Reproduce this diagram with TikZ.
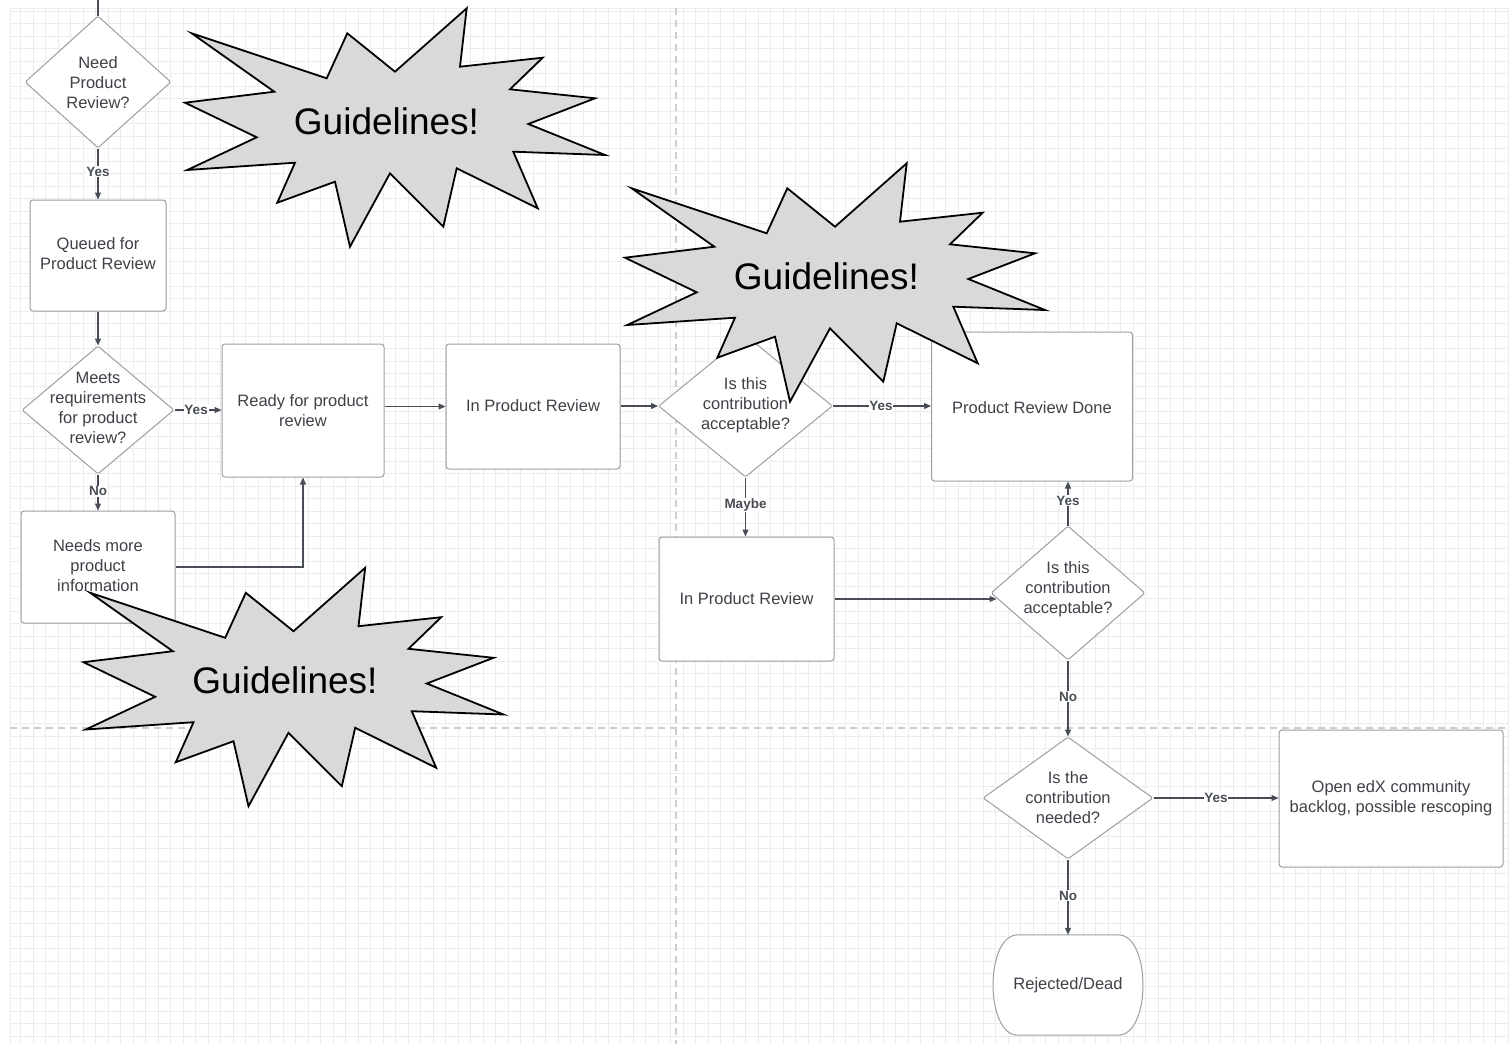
\documentclass[tikz,border=0pt]{standalone}
\usepackage{fontspec}
\setmainfont{Liberation Sans}
\usetikzlibrary{shapes.geometric,arrows.meta,calc}
\definecolor{txt}{RGB}{62,66,72}
\definecolor{bord}{RGB}{155,158,162}
\definecolor{conn}{RGB}{72,77,85}
\definecolor{gridc}{RGB}{235,236,238}
\definecolor{dashc}{RGB}{205,205,208}
\definecolor{starfill}{RGB}{217,217,217}
\newcommand\guideburst[2]{%
  \begin{scope}[shift={#1}]
    \draw[burst] (191.7,33.3) -- (326.7,78.3) -- (347.3,33.3) -- (395,71.7) -- (466.7,8.3) -- (460,66.7) -- (542.7,57.7) -- (510,89.3) -- (595,98.3) -- (528.3,124) -- (605,155) -- (513.3,151.7) -- (537.7,208.3) -- (456.7,168.3) -- (443.3,226.7) -- (390,173.3) -- (350,246.7) -- (335,181.7) -- (277.3,202.7) -- (295,162.7) -- (187.3,170) -- (256.7,137.3) -- (185,102.7) -- (274.3,91.7) -- cycle;
    \node[bursttext] (#2) at (386.5,121) {Guidelines!};
  \end{scope}}
\begin{document}
\begin{tikzpicture}[x=1pt,y=-1pt,
  box/.style={draw=bord, line width=1pt, rounded corners=3pt, fill=white, inner sep=0pt},
  dec/.style={diamond, draw=bord, line width=1pt, fill=white, inner sep=0pt, rounded corners=1.5pt},
  txtn/.style={text=txt, align=center, font=\fontsize{16.5}{20}\selectfont, inner sep=0pt},
  arr/.style={draw=conn, line width=1.1pt, -{Triangle[length=7pt,width=6pt]}},
  plain/.style={draw=conn, line width=1.1pt},
  lbl/.style={fill=white, text=conn, font=\bfseries\fontsize{13.5}{15}\selectfont, inner sep=0.8pt},
  burst/.style={draw=black, line width=1.8pt, fill=starfill, line join=miter},
  bursttext/.style={font=\fontsize{37}{40}\selectfont, text=black, inner sep=0pt}
]
\useasboundingbox (0,0) rectangle (1509,1044);
\fill[white] (0,0) rectangle (1509,1044);
% grid
\begin{scope}
  \clip (10,8) rectangle (1509,1044);
  \foreach \i in {0,...,121} \draw[gridc,line width=0.55pt] ({8.2+12.5*\i},8) -- ({8.2+12.5*\i},1044);
  \foreach \j in {0,...,83} \draw[gridc,line width=0.55pt] (10,{11+12.5*\j}) -- (1509,{11+12.5*\j});
\end{scope}
\draw[gridc,line width=0.8pt] (10,1044) -- (10,8) -- (1509,8);
\draw[dashc,line width=1.3pt,dash pattern=on 7pt off 5pt] (676,8) -- (676,1044);
\draw[dashc,line width=1.3pt,dash pattern=on 7pt off 5pt] (10,728) -- (1509,728);

% shapes
\node[dec, minimum width=146pt, minimum height=132pt] (d1) at (98,82) {};
\node[txtn] (d1t) at (98,82.5) {Need\\Product\\Review?};
\node[box, minimum width=136pt, minimum height=111pt] (q) at (98,255.5) {};
\node[txtn] (qt) at (98,254) {Queued for\\Product Review};
\node[dec, minimum width=152pt, minimum height=128pt] (d3) at (98,410) {};
\node[txtn] (d3t) at (98,407.5) {Meets\\requirements\\for product\\review?};
\node[box, minimum width=154pt, minimum height=112pt] (needs) at (98,567) {};
\node[txtn] (needst) at (98,565.5) {Needs more\\product\\information};
\node[box, minimum width=162pt, minimum height=133pt] (ready) at (303,410.5) {};
\node[txtn] (readyt) at (303,410.5) {Ready for product\\review};
\node[box, minimum width=174pt, minimum height=125pt] (ipr1) at (533,406.5) {};
\node[txtn] (ipr1t) at (533,405.5) {In Product Review};
\node[dec, minimum width=174pt, minimum height=142pt] (d4) at (745.5,406) {};
\node[txtn] (d4t) at (745.5,405.5) {Is this\\contribution\\acceptable?};
\node[box, minimum width=201pt, minimum height=149pt] (prd) at (1032,406.5) {};
\node[txtn] (prdt) at (1032,407.5) {Product Review Done};
\node[box, minimum width=175pt, minimum height=124pt] (ipr2) at (746.5,599) {};
\node[txtn] (ipr2t) at (746.5,598.5) {In Product Review};
\node[dec, minimum width=154pt, minimum height=134pt] (d5) at (1068,593) {};
\node[txtn] (d5t) at (1068,589.5) {Is this\\contribution\\acceptable?};
\node[dec, minimum width=170pt, minimum height=122pt] (d6) at (1068,798) {};
\node[txtn] (d6t) at (1068,797.5) {Is the\\contribution\\needed?};
\node[box, minimum width=224pt, minimum height=137pt] (open) at (1391,798.5) {};
\node[txtn] (opent) at (1391,798.5) {Open edX community\\backlog, possible rescoping};
\node[inner sep=0pt, minimum width=150pt, minimum height=100pt] (rej) at (1068,985) {};
\draw[draw=bord, line width=1pt, fill=white]
  ([xshift=-50pt]rej.north) -- ([xshift=50pt]rej.north)
  .. controls ([xshift=83.3pt]rej.north) and ([xshift=83.3pt]rej.south) .. ([xshift=50pt]rej.south)
  -- ([xshift=-50pt]rej.south)
  .. controls ([xshift=-83.3pt]rej.south) and ([xshift=-83.3pt]rej.north) .. ([xshift=-50pt]rej.north) -- cycle;
\node[txtn] (rejt) at (1068,985.5) {Rejected/Dead};

% connectors
\coordinate (topin) at (98,0);
\draw[plain] (topin) -- (d1.north);
\draw[arr] (d1.south) -- node[lbl,pos=0.46] (l1) {Yes} (q.north);
\draw[arr] (q.south) -- (d3.north);
\draw[arr] (d3.east) -- node[lbl,pos=0.46] (l2) {Yes} (ready.west |- d3.east);
\draw[arr] (d3.south) -- node[lbl,pos=0.46] (l3) {No} (needs.north);
\draw[arr] (needs.east) -| (ready.south);
\draw[arr] (ready.east |- ipr1.west) -- (ipr1.west);
\draw[arr] (ipr1.east |- d4.west) -- (d4.west);
\draw[arr] (d4.east) -- node[lbl,pos=0.49] (l4) {Yes} (prd.west |- d4.east);
\draw[arr] (d4.south) -- node[lbl,pos=0.47] (l5) {Maybe} (ipr2.north -| d4.south);
\draw[arr] (ipr2.east) -- ([xshift=6pt]ipr2.east -| d5.west);
\draw[arr] (d5.north) -- node[lbl,pos=0.56] (l6) {Yes} (prd.south -| d5.north);
\draw[arr] (d5.south) -- node[lbl,pos=0.48] (l7) {No} (d6.north);
\draw[arr] (d6.east) -- node[lbl,pos=0.5] (l8) {Yes} (open.west |- d6.east);
\draw[arr] (d6.south) -- node[lbl,pos=0.48] (l9) {No} (rej.north);

% bursts
\guideburst{(0,0)}{g1}
\guideburst{(440,155)}{g2}
\guideburst{(-101.5,559.5)}{g3}
\end{tikzpicture}
\end{document}
